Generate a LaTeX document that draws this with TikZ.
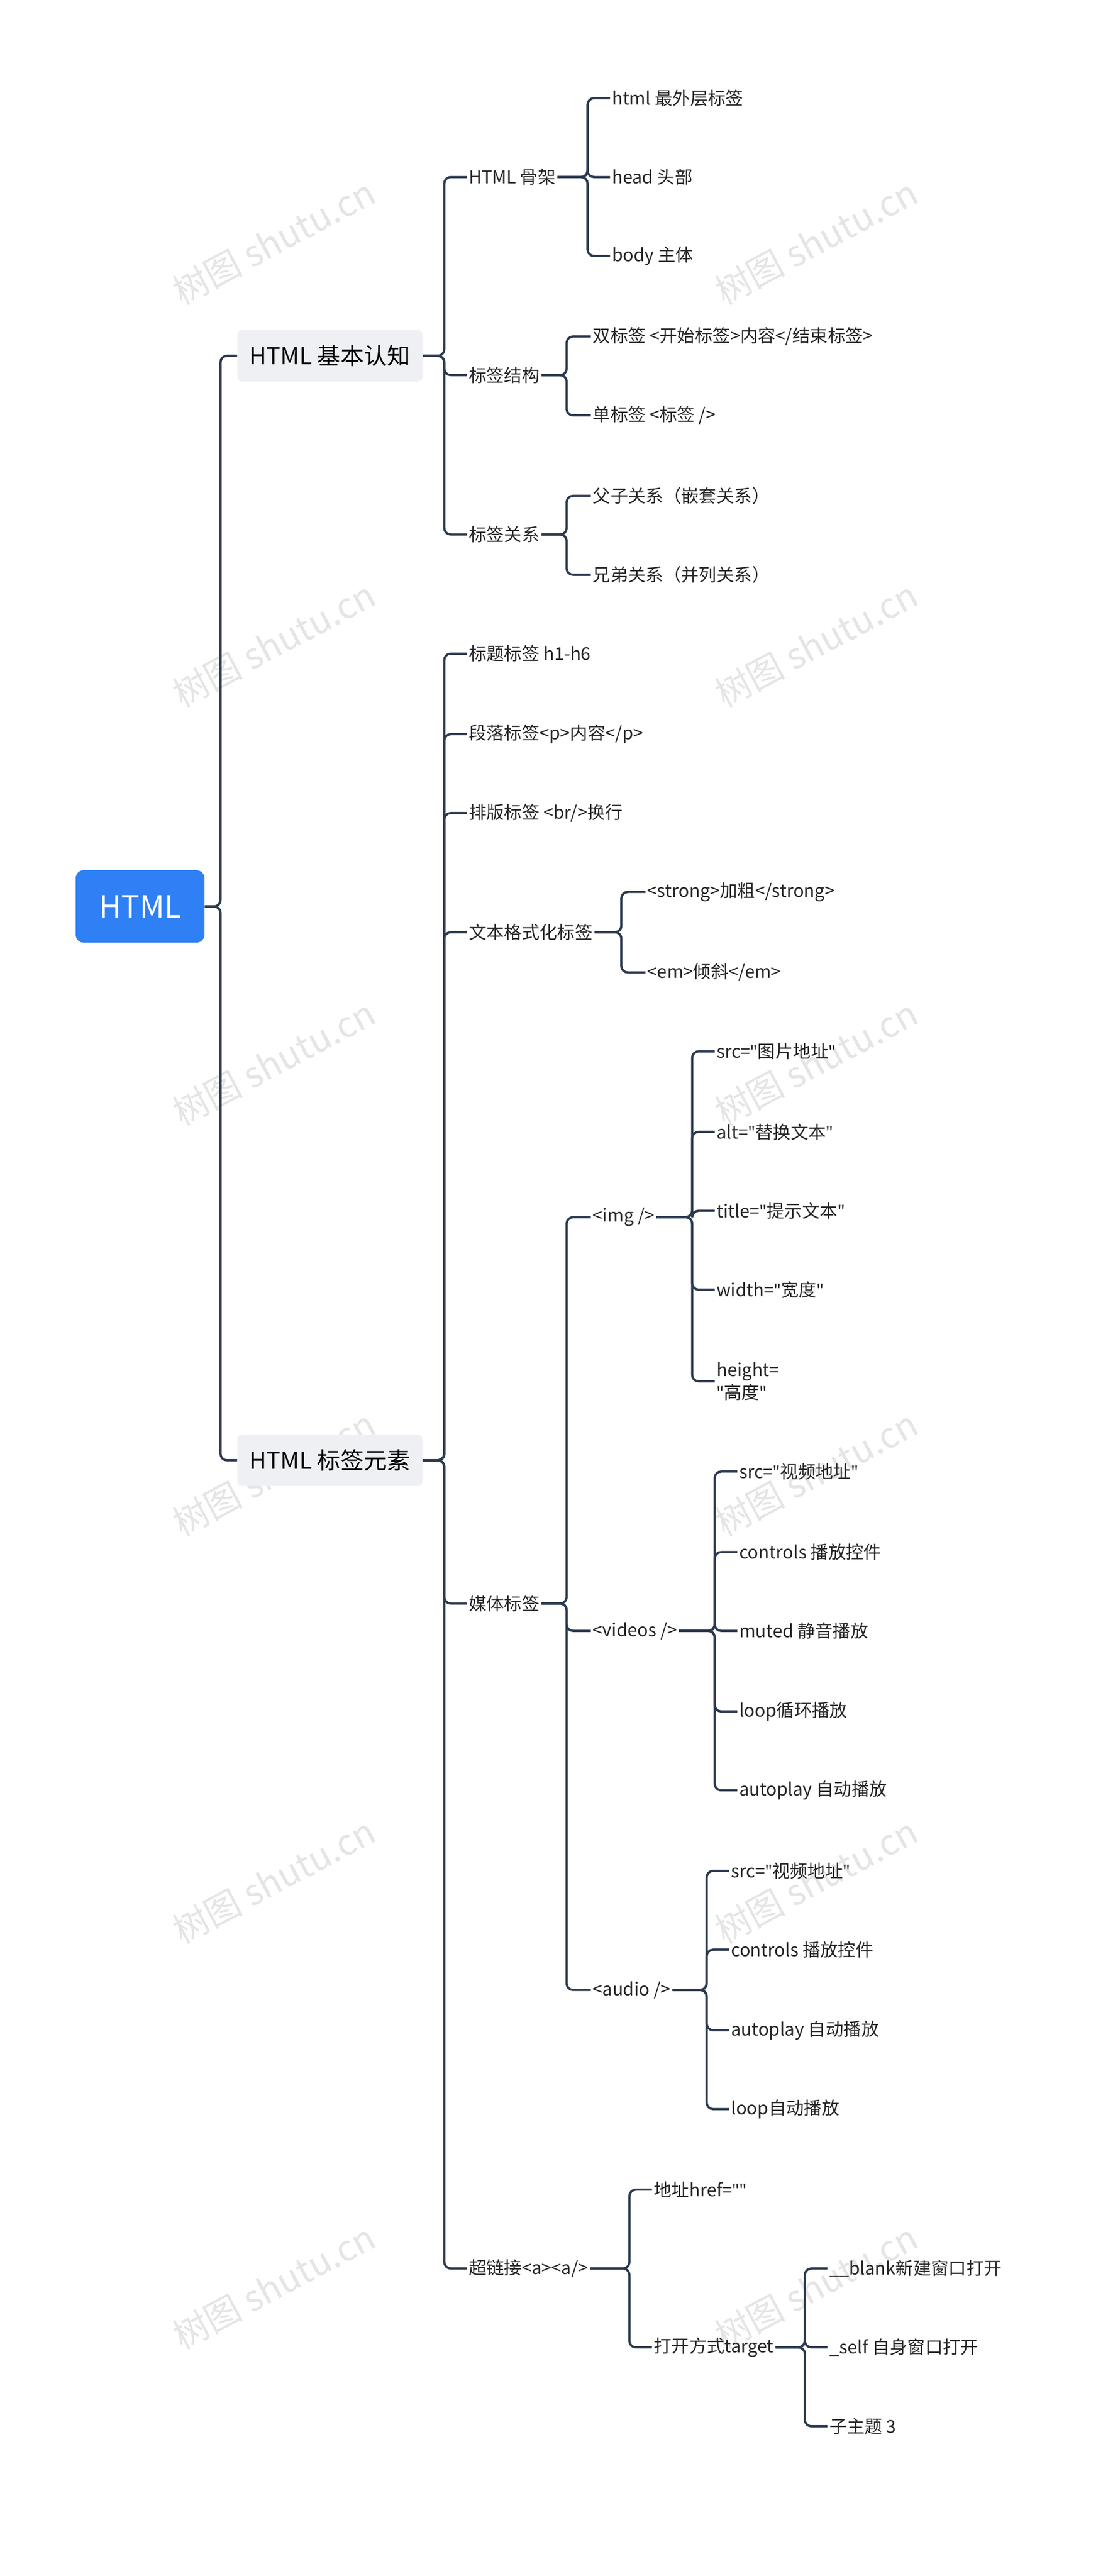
\documentclass[tikz,border=0pt]{standalone}
\usepackage{fontspec}
\defaultfontfeatures{}
\setmainfont{Noto Sans CJK SC}
\newfontfamily\latinfont{Noto Sans}
\usetikzlibrary{positioning}
\definecolor{linecol}{HTML}{2B3A4E}
\definecolor{rootblue}{HTML}{2F7FF5}
\definecolor{subgray}{HTML}{EEF0F3}
\newcommand{\qt}{{\latinfont\symbol{34}}}
\tikzset{
  edge/.style={draw=linecol,line width=1.4pt,rounded corners=4pt},
  leaf/.style={anchor=west,inner sep=1pt,font=\fontsize{11}{14}\selectfont,text=black!85,align=left},
  sub/.style={fill=subgray,rounded corners=3pt,minimum width=115pt,minimum height=32pt,font=\fontsize{14.5}{17}\selectfont},
  wmark/.style={text=black!10,rotate=28,font=\fontsize{22}{26}\selectfont}
}
\begin{document}
\begin{tikzpicture}[x=1pt,y=-1pt]
\useasboundingbox (0,0) rectangle (688,1600);
% watermarks
\foreach \wy in {150,400,660,915,1168,1420}{
  \node[wmark] at (170,\wy) {树图 shutu.cn};
  \node[wmark] at (507,\wy) {树图 shutu.cn};
}
% root and main branches
\node[fill=rootblue,rounded corners=5pt,minimum width=80pt,minimum height=45pt,text=white,font=\fontsize{19}{22}\selectfont] (root) at (87,563) {HTML};
\node[sub] (basic) at (205,221) {HTML 基本认知};
\node[sub] (elem) at (205,907) {HTML 标签元素};
\draw[edge] (root.east) -- (137,563) |- (basic.west);
\draw[edge] (root.east) -- (137,563) |- (elem.west);
% basic
\node[leaf] (frame) at (290,110) {HTML 骨架};
\node[leaf] (struct) at (290,233) {标签结构};
\node[leaf] (rel) at (290,332) {标签关系};
\foreach \c in {frame,struct,rel}{ \draw[edge] (basic.east) -- (276,221) |- (\c.west); }
\node[leaf] (fa) at (379,61) {html 最外层标签};
\node[leaf] (fb) at (379,110) {head 头部};
\node[leaf] (fc) at (379,159) {body 主体};
\foreach \c in {fa,fb,fc}{ \draw[edge] (frame.east) -- (365,110) |- (\c.west); }
\node[leaf] (sa) at (367,209) {双标签 <开始标签>内容</结束标签>};
\node[leaf] (sb) at (367,258) {单标签 <标签 />};
\foreach \c in {sa,sb}{ \draw[edge] (struct.east) -- (352,233) |- (\c.west); }
\node[leaf] (ra) at (367,308) {父子关系（嵌套关系）};
\node[leaf] (rb) at (367,357) {兄弟关系（并列关系）};
\foreach \c in {ra,rb}{ \draw[edge] (rel.east) -- (352,332) |- (\c.west); }
% elements
\node[leaf] (title) at (290,406) {标题标签 h1-h6};
\node[leaf] (para) at (290,456) {段落标签<p>内容</p>};
\node[leaf] (br) at (290,505) {排版标签 <br/>换行};
\node[leaf] (fmt) at (290,579) {文本格式化标签};
\node[leaf] (media) at (290,996) {媒体标签};
\node[leaf] (anchor) at (290,1409) {超链接<a><a/>};
\foreach \c in {title,para,br,fmt,media,anchor}{ \draw[edge] (elem.east) -- (276,907) |- (\c.west); }
\node[leaf] (fmta) at (401,554) {<strong>加粗</strong>};
\node[leaf] (fmtb) at (401,604) {<em>倾斜</em>};
\foreach \c in {fmta,fmtb}{ \draw[edge] (fmt.east) -- (386,579) |- (\c.west); }
% media
\node[leaf] (img) at (367,756) {<img />};
\node[leaf] (video) at (367,1013) {<videos />};
\node[leaf] (audio) at (367,1236) {<audio />};
\foreach \c in {img,video,audio}{ \draw[edge] (media.east) -- (352,996) |- (\c.west); }
\node[leaf] (ia) at (444,653) {src=\qt 图片地址\qt};
\node[leaf] (ib) at (444,703) {alt=\qt 替换文本\qt};
\node[leaf] (ic) at (444,752) {title=\qt 提示文本\qt};
\node[leaf] (id) at (444,801) {width=\qt 宽度\qt};
\node[leaf] (ie) at (444,858) {height=\\\qt 高度\qt};
\foreach \c in {ia,ib,ic,id,ie}{ \draw[edge] (img.east) -- (430,756) |- (\c.west); }
\node[leaf] (va) at (458,914) {src=\qt 视频地址\qt};
\node[leaf] (vb) at (458,964) {controls 播放控件};
\node[leaf] (vc) at (458,1013) {muted 静音播放};
\node[leaf] (vd) at (458,1063) {loop循环播放};
\node[leaf] (ve) at (458,1112) {autoplay 自动播放};
\foreach \c in {va,vb,vc,vd,ve}{ \draw[edge] (video.east) -- (444,1013) |- (\c.west); }
\node[leaf] (aa) at (453,1162) {src=\qt 视频地址\qt};
\node[leaf] (ab) at (453,1211) {controls 播放控件};
\node[leaf] (ac) at (453,1261) {autoplay 自动播放};
\node[leaf] (ad) at (453,1310) {loop自动播放};
\foreach \c in {aa,ab,ac,ad}{ \draw[edge] (audio.east) -- (439,1236) |- (\c.west); }
% links
\node[leaf] (href) at (405,1360) {地址href=\qt\qt};
\node[leaf] (target) at (405,1458) {打开方式target};
\foreach \c in {href,target}{ \draw[edge] (anchor.east) -- (391,1409) |- (\c.west); }
\node[leaf] (ta) at (514,1409) {\_\_blank新建窗口打开};
\node[leaf] (tb) at (514,1458) {\_self 自身窗口打开};
\node[leaf] (tc) at (514,1507) {子主题 3};
\foreach \c in {ta,tb,tc}{ \draw[edge] (target.east) -- (500,1458) |- (\c.west); }
\end{tikzpicture}
\end{document}
